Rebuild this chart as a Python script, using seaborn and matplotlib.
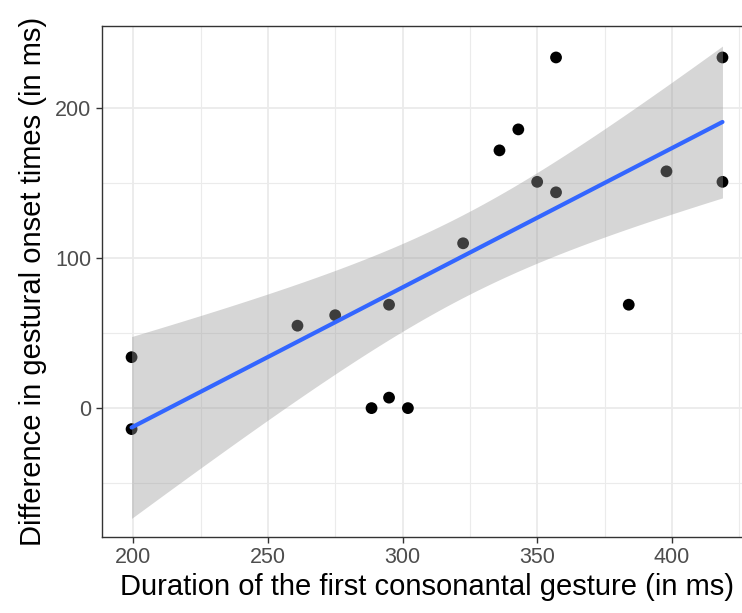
import numpy as np
import pandas as pd
import matplotlib
matplotlib.use("Agg")
import matplotlib.pyplot as plt
import seaborn as sns

duration = [199.4, 199.4, 261, 275, 295, 288.5, 295, 302, 322.5, 336, 343, 350, 357, 357, 384, 398, 418.8, 418.8]
onset_diff = [34, -14, 55, 62, 69, 0, 7, 0, 110, 172, 186, 151, 144, 234, 69, 158, 234, 151]

df = pd.DataFrame({"duration": duration, "onset_diff": onset_diff})

sns.set_theme(style="white")
plt.rcParams['font.family'] = ['Liberation Sans', 'DejaVu Sans']

fig = plt.figure(figsize=(7.42, 6.13), dpi=100)
# panel runs past the right edge of the picture, as in the reference crop
ax = fig.add_axes([0.1375, 0.124, 0.876, 0.8336])

# linear fit + 95% confidence band (like geom_smooth(method="lm"))
x = df["duration"].to_numpy(float)
y = df["onset_diff"].to_numpy(float)
n = len(x)
slope, intercept = np.polyfit(x, y, 1)
grid = np.linspace(x.min(), x.max(), 80)
fit = intercept + slope * grid
resid = y - (intercept + slope * x)
s = np.sqrt(np.sum(resid ** 2) / (n - 2))
t_crit = 2.120  # t(0.975, df=16)
se = s * np.sqrt(1 / n + (grid - x.mean()) ** 2 / np.sum((x - x.mean()) ** 2))
lo, hi = fit - t_crit * se, fit + t_crit * se

sns.scatterplot(data=df, x="duration", y="onset_diff", ax=ax, color="black",
                s=72, edgecolor="none", zorder=3)
ax.fill_between(grid, lo, hi, color="#999999", alpha=0.4, linewidth=0, zorder=4)
sns.lineplot(x=grid, y=fit, ax=ax, color="#3366FF", linewidth=3.0, zorder=5)

# ggplot-style expansion on x, y limits
xmin, xmax = x.min(), x.max()
ax.set_xlim(xmin - 0.05 * (xmax - xmin), xmax + 0.05 * (xmax - xmin))
ax.set_ylim(-86, 255)

ax.set_xticks([200, 250, 300, 350, 400])
ax.set_xticks([225, 275, 325, 375, 425], minor=True)
ax.set_yticks([0, 100, 200])
ax.set_yticks([-50, 50, 150], minor=True)
ax.grid(which="major", color="#EBEBEB", linewidth=1.3, zorder=0)
ax.grid(which="minor", color="#EBEBEB", linewidth=0.8, zorder=0)
ax.set_axisbelow(True)

for sp in ax.spines.values():
    sp.set_color("#333333")
    sp.set_linewidth(1.0)

ax.tick_params(which="major", length=4.5, width=1.0, color="#333333",
               labelsize=15.5, labelcolor="#4D4D4D", bottom=True, left=True, pad=3)
ax.tick_params(which="minor", length=0)

ax.set_xlabel("Duration of the first consonantal gesture (in ms)", fontsize=21, color="black", labelpad=3)
ax.set_ylabel("Difference in gestural onset times (in ms)", fontsize=21, color="black", labelpad=6)

fig.savefig("out.png", dpi=100)
